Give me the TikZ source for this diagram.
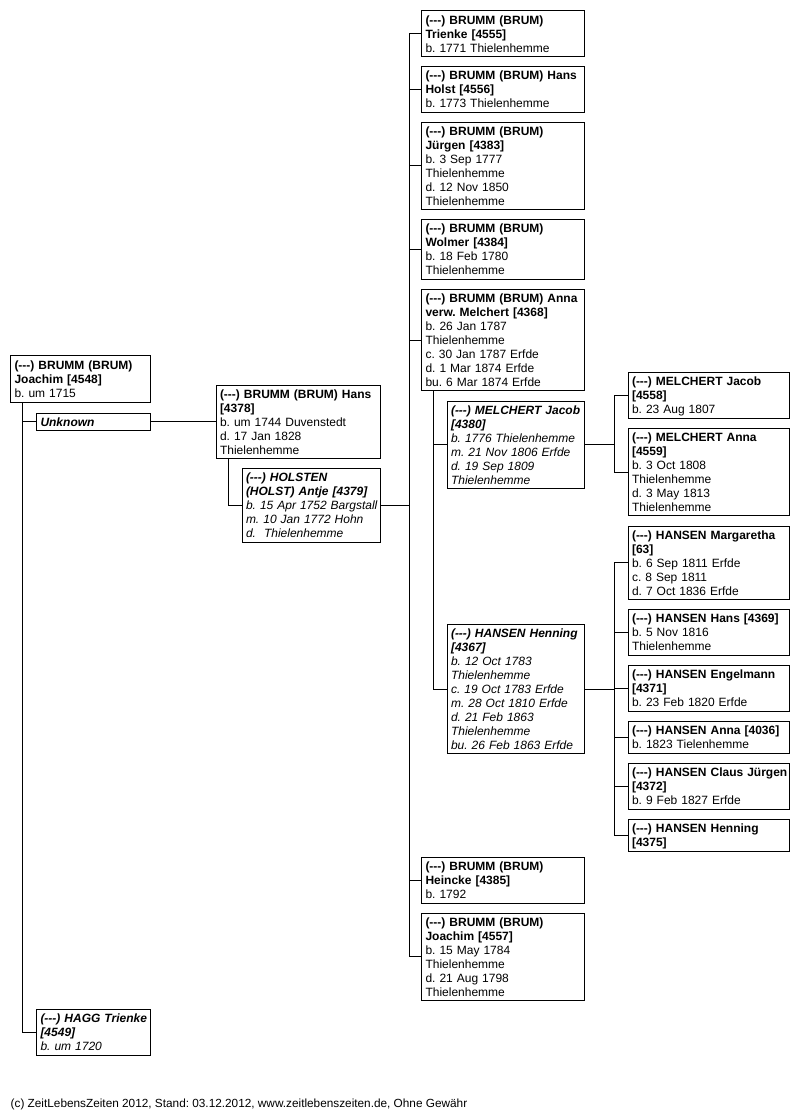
\documentclass[tikz,border=0pt]{standalone}
\usepackage{fontspec}
\setmainfont{Liberation Sans}
\frenchspacing
\newcommand\dsh{(-{}-{}-)}
\newcommand\gbox[1]{\noindent\raisebox{-2pt}[\height][\depth]{\begin{tabular}{@{}l@{}}#1\end{tabular}}}
\newcommand\pn[7][]{%
  \pgfmathsetmacro\tw{#5-8}%
  \node[pbox,#1,minimum width=#5pt,minimum height=#6pt,text width=\tw pt] (#2) at (#3,#4) {\gbox{#7}};%
}
\tikzset{
  pbox/.style={draw, line width=1pt, rectangle, anchor=north west, inner xsep=4pt, inner ysep=0pt, outer sep=0pt, align=left, font=\fontsize{12}{14}\selectfont\frenchspacing},
  spouse/.style={font=\fontsize{12}{14}\selectfont\frenchspacing\itshape},
  conn/.style={line width=1pt}
}
\begin{document}
\begin{tikzpicture}[x=1pt,y=-1pt]
\useasboundingbox (0,0) rectangle (808,1112);
% generation 1
\pn{J4548}{10.5}{355.5}{140}{47}{\textbf{\dsh{} BRUMM (BRUM)}\\\textbf{Joachim [4548]}\\b. um 1715}
\pn[spouse]{Unk}{36.5}{413}{114}{17}{\textbf{Unknown}}
\pn[spouse]{HAGG}{36.5}{1009}{114}{46}{\textbf{\dsh{} HAGG Trienke}\\\textbf{[4549]}\\b. um 1720}
% generation 2
\pn{H4378}{216}{385}{164}{73}{\textbf{\dsh{} BRUMM (BRUM) Hans}\\\textbf{[4378]}\\b. um 1744 Duvenstedt\\d. 17 Jan 1828\\Thielenhemme}
\pn[spouse]{HOL}{242}{468}{138}{74}{\textbf{\dsh{} HOLSTEN}\\\textbf{(HOLST) Antje [4379]}\\b. 15 Apr 1752 Bargstall\\m. 10 Jan 1772 Hohn\\d.\ \ Thielenhemme}
% generation 3
\pn{T4555}{421.5}{10.5}{163}{46}{\textbf{\dsh{} BRUMM (BRUM)}\\\textbf{Trienke [4555]}\\b. 1771 Thielenhemme}
\pn{H4556}{421.5}{66}{163}{46}{\textbf{\dsh{} BRUMM (BRUM) Hans}\\\textbf{Holst [4556]}\\b. 1773 Thielenhemme}
\pn{J4383}{421.5}{122}{163}{87}{\textbf{\dsh{} BRUMM (BRUM)}\\\textbf{Jürgen [4383]}\\b. 3 Sep 1777\\Thielenhemme\\d. 12 Nov 1850\\Thielenhemme}
\pn{W4384}{421.5}{219}{163}{60}{\textbf{\dsh{} BRUMM (BRUM)}\\\textbf{Wolmer [4384]}\\b. 18 Feb 1780\\Thielenhemme}
\pn{A4368}{421.5}{289.5}{163}{101}{\textbf{\dsh{} BRUMM (BRUM) Anna}\\\textbf{verw. Melchert [4368]}\\b. 26 Jan 1787\\Thielenhemme\\c. 30 Jan 1787 Erfde\\d. 1 Mar 1874 Erfde\\bu. 6 Mar 1874 Erfde}
\pn[spouse]{M4380}{447}{401}{137}{87}{\textbf{\dsh{} MELCHERT Jacob}\\\textbf{[4380]}\\b. 1776 Thielenhemme\\m. 21 Nov 1806 Erfde\\d. 19 Sep 1809\\Thielenhemme}
\pn[spouse]{H4367}{447}{624.5}{137}{129}{\textbf{\dsh{} HANSEN Henning}\\\textbf{[4367]}\\b. 12 Oct 1783\\Thielenhemme\\c. 19 Oct 1783 Erfde\\m. 28 Oct 1810 Erfde\\d. 21 Feb 1863\\Thielenhemme\\bu. 26 Feb 1863 Erfde}
\pn{H4385}{421.5}{857}{163}{46}{\textbf{\dsh{} BRUMM (BRUM)}\\\textbf{Heincke [4385]}\\b. 1792}
\pn{J4557}{421.5}{913}{163}{87}{\textbf{\dsh{} BRUMM (BRUM)}\\\textbf{Joachim [4557]}\\b. 15 May 1784\\Thielenhemme\\d. 21 Aug 1798\\Thielenhemme}
% generation 4
\pn{J4558}{628}{372}{161}{46}{\textbf{\dsh{} MELCHERT Jacob}\\\textbf{[4558]}\\b. 23 Aug 1807}
\pn{A4559}{628}{428.5}{161}{87}{\textbf{\dsh{} MELCHERT Anna}\\\textbf{[4559]}\\b. 3 Oct 1808\\Thielenhemme\\d. 3 May 1813\\Thielenhemme}
\pn{M63}{628}{526}{161}{73}{\textbf{\dsh{} HANSEN Margaretha}\\\textbf{[63]}\\b. 6 Sep 1811 Erfde\\c. 8 Sep 1811\\d. 7 Oct 1836 Erfde}
\pn{H4369}{628}{609}{161}{46}{\textbf{\dsh{} HANSEN Hans [4369]}\\b. 5 Nov 1816\\Thielenhemme}
\pn{E4371}{628}{665}{161}{46}{\textbf{\dsh{} HANSEN Engelmann}\\\textbf{[4371]}\\b. 23 Feb 1820 Erfde}
\pn{A4036}{628}{721}{161}{32}{\textbf{\dsh{} HANSEN Anna [4036]}\\b. 1823 Tielenhemme}
\pn{C4372}{628}{763}{161}{46}{\textbf{\dsh{} HANSEN Claus Jürgen}\\\textbf{[4372]}\\b. 9 Feb 1827 Erfde}
\pn{H4375}{628}{819}{161}{32}{\textbf{\dsh{} HANSEN Henning}\\\textbf{[4375]}}
% connectors
\draw[conn] ([xshift=11.5pt]J4548.south west) coordinate (jv) |- (Unk.west);
\draw[conn] (jv) |- (HAGG.west);
\draw[conn] (Unk.east) -- (H4378.west);
\draw[conn] ([xshift=12pt]H4378.south west) |- (HOL.west);
\draw[conn] (HOL.east) -- ++(29,0) coordinate (cj);
\foreach \c in {T4555,H4556,J4383,W4384,A4368,H4385,J4557}
  \draw[conn] (cj) |- (\c.west);
\draw[conn] ([xshift=11.5pt]A4368.south west) coordinate (av) |- (M4380.west);
\draw[conn] (av) |- (H4367.west);
\draw[conn] (M4380.east) -- ++(30,0) coordinate (cm);
\foreach \c in {J4558,A4559}
  \draw[conn] (cm) |- (\c.west);
\draw[conn] (H4367.east) -- ++(30,0) coordinate (ch);
\foreach \c in {M63,H4369,E4371,A4036,C4372,H4375}
  \draw[conn] (ch) |- (\c.west);
% footer
\node[anchor=base west, inner sep=0pt, font=\fontsize{11.8}{14}\selectfont\frenchspacing] (foot) at (10.5,1107.5) {(c) ZeitLebensZeiten 2012, Stand: 03.12.2012, www.zeitlebenszeiten.de, Ohne Gewähr};
\end{tikzpicture}
\end{document}
